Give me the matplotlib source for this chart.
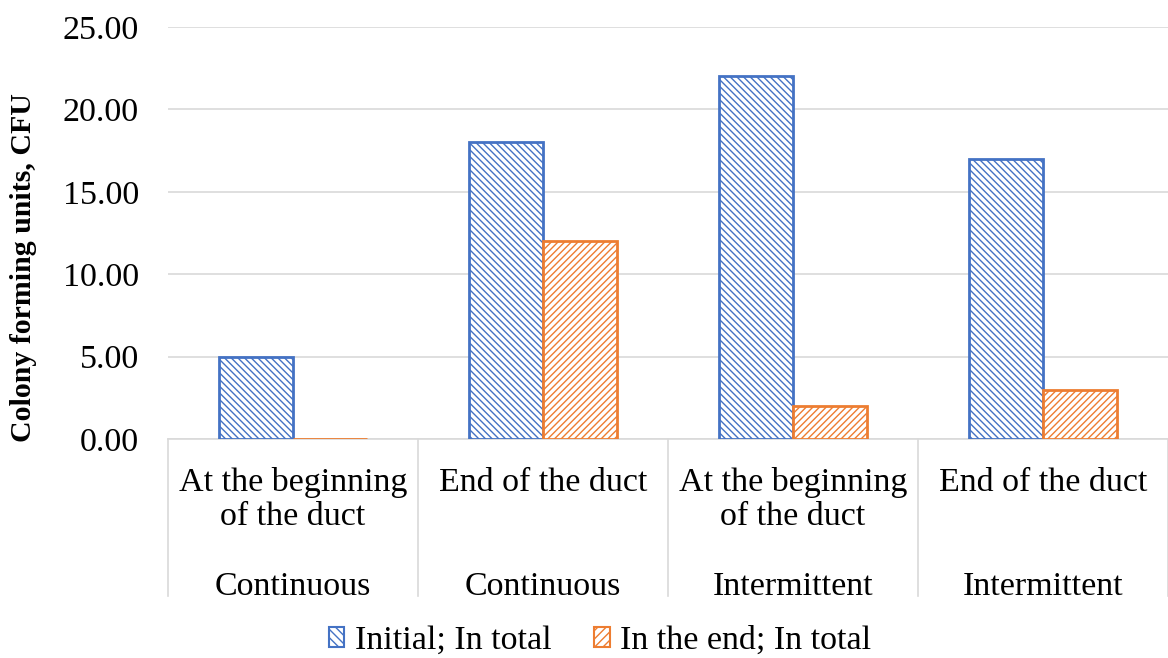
import matplotlib.pyplot as plt
import matplotlib.transforms as mtransforms
from matplotlib.patches import Patch
import numpy as np

# data
positions = ["At the beginning\nof the duct", "End of the duct",
             "At the beginning\nof the duct", "End of the duct"]
modes = ["Continuous", "Continuous", "Intermittent", "Intermittent"]
initial = [5.0, 18.0, 22.0, 17.0]
in_the_end = [0.0, 12.0, 2.0, 3.0]
series_names = ["Initial; In total", "In the end; In total"]

blue = "#4472C4"
orange = "#ED7D31"

plt.rcParams['font.family'] = ['Liberation Serif', 'DejaVu Serif']
plt.rcParams['hatch.linewidth'] = 1.0

fig = plt.figure(figsize=(11.68, 6.58), dpi=100)
ax = fig.add_axes([168/1168, 1-439/658, 1-168/1168, (439-27)/658])

x = np.arange(len(initial))
w = 0.296
ax.bar(x - w/2, initial, w, facecolor="white", edgecolor=blue, hatch="\\\\\\\\\\",
       linewidth=2, zorder=3)
ax.bar(x + w/2, in_the_end, w, facecolor="white", edgecolor=orange, hatch="/////",
       linewidth=2, zorder=3)

ax.set_xlim(-0.5, len(initial) - 0.5)
ax.set_ylim(0, 25)
ax.set_yticks(np.arange(0, 26, 5))
ax.set_yticklabels([f"{v:.2f}" for v in np.arange(0, 26, 5)], fontsize=24.5)
ax.tick_params(axis='y', length=0, pad=21)
ax.set_xticks([])
ax.grid(axis='y', color="#D9D9D9", linewidth=1.2)
ax.set_axisbelow(True)
for s in ["top", "right", "left"]:
    ax.spines[s].set_visible(False)
ax.spines["bottom"].set_color("#D9D9D9")
ax.spines["bottom"].set_linewidth(1.2)

# two-level category axis
trans = mtransforms.blended_transform_factory(ax.transData, ax.transAxes)
for b in np.arange(-0.5, len(initial), 1.0):
    ax.plot([b, b], [0, -0.38], transform=trans, color="#D9D9D9", lw=1.2, clip_on=False)
for i in range(len(positions)):
    ax.text(i, -0.068, positions[i], transform=trans, ha="center", va="top",
            fontsize=24.5, linespacing=1.15)
    ax.text(i, -0.358, modes[i], transform=trans, ha="center", va="center", fontsize=24.5)

fig.text(24/1168, 1-268/658, "Colony forming units, CFU", rotation=90, ha="center",
         va="center", fontsize=21.5, fontweight="bold")

handles = [Patch(facecolor="white", edgecolor=blue, hatch="\\\\\\\\", lw=1.5),
           Patch(facecolor="white", edgecolor=orange, hatch="////", lw=1.5)]
fig.legend(handles, series_names, loc="center", bbox_to_anchor=(600/1168, 1-641/658),
           ncol=2, frameon=False, fontsize=24.5, handlelength=0.45, handleheight=0.5,
           handletextpad=0.3, columnspacing=1.27)

fig.savefig("out.png", dpi=100)
